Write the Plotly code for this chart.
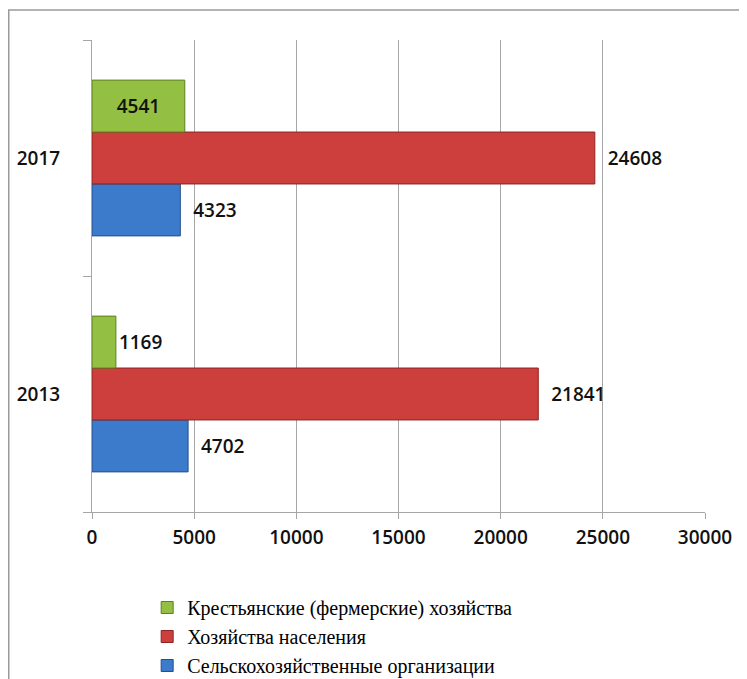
import plotly.graph_objects as go

years = ["2013", "2017"]
farm = [1169, 4541]
households = [21841, 24608]
agri_org = [4702, 4323]

names = [
    "Сельскохозяйственные организации",
    "Хозяйства населения",
    "Крестьянские (фермерские) хозяйства",
]
x_ticks = [0, 5000, 10000, 15000, 20000, 25000, 30000]

num_font = dict(family="Open Sans", size=19, color="#111111", weight=600)

fig = go.Figure()
fig.add_trace(go.Bar(
    y=years, x=agri_org, orientation="h", name=names[0],
    marker=dict(color="#3c7bcc", line=dict(color="#24508a", width=1)),
    text=["  " + str(v) for v in agri_org], textposition="outside",
    textfont=num_font, cliponaxis=False,
))
fig.add_trace(go.Bar(
    y=years, x=households, orientation="h", name=names[1],
    marker=dict(color="#cc3f3d", line=dict(color="#8c2422", width=1)),
    text=["  " + str(v) for v in households], textposition="outside",
    textfont=num_font, cliponaxis=False,
))
fig.add_trace(go.Bar(
    y=years, x=farm, orientation="h", name=names[2],
    marker=dict(color="#93bf43", line=dict(color="#5f7f22", width=1)),
    text=[str(v) for v in farm], textposition=["outside", "inside"],
    insidetextanchor="middle",
    textfont=num_font, insidetextfont=num_font, outsidetextfont=num_font,
    cliponaxis=False,
))

fig.update_layout(
    width=739, height=671,
    margin=dict(l=84, r=42, t=32, b=167, autoexpand=False),
    paper_bgcolor="white", plot_bgcolor="white",
    barmode="group", bargap=0.34, bargroupgap=0,
    showlegend=True,
    legend=dict(
        traceorder="reversed", orientation="v",
        x=0.09, y=-0.161, xanchor="left", yanchor="top",
        font=dict(family="Liberation Serif", size=20, color="black"),
        itemwidth=30, tracegroupgap=0, bgcolor="rgba(0,0,0,0)",
    ),
    xaxis=dict(
        range=[0, 30000], tickvals=x_ticks, ticktext=[str(v) for v in x_ticks],
        showgrid=True, gridcolor="#a6a6a6", gridwidth=1,
        showline=True, linecolor="#a6a6a6", linewidth=1,
        ticks="outside", ticklen=6, tickcolor="#a6a6a6",
        tickfont=num_font, zeroline=False, automargin=False,
        ticklabelstandoff=2,
    ),
    yaxis=dict(
        type="category", categoryorder="array", categoryarray=years,
        showline=True, linecolor="#a6a6a6", linewidth=1,
        ticks="outside", ticklen=8, tickcolor="#a6a6a6", tickson="boundaries",
        tickfont=num_font, ticklabelstandoff=27, showgrid=False,
        automargin=False,
    ),
    shapes=[dict(
        type="rect", xref="paper", yref="paper",
        x0=-0.1358, x1=1.0636, y0=-0.4, y1=1.0636,
        line=dict(color="#9a9a9a", width=1.5), fillcolor="rgba(0,0,0,0)",
        layer="below",
    )],
)

fig.write_html("out.html")
